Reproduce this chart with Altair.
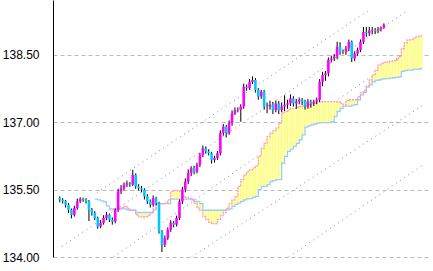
import altair as alt
import pandas as pd

opens = [135.31,135.27,135.24,135.16,135.05,134.94,135.09,135.24,135.29,135.27,
135.24,135.05,134.98,134.87,134.68,134.76,134.87,134.94,134.83,134.79,
135.05,135.46,135.53,135.61,135.64,135.61,135.83,135.57,135.53,135.50,
135.35,135.24,135.16,135.31,135.20,134.57,134.27,134.42,134.61,134.76,
134.72,134.87,135.24,135.50,135.68,135.87,135.98,135.90,136.05,136.27,
136.42,136.35,136.31,136.16,136.20,136.31,136.76,136.90,136.76,136.98,
137.20,137.27,137.27,137.35,137.79,137.76,137.90,137.94,137.72,137.57,
137.68,137.35,137.35,137.39,137.27,137.42,137.27,137.35,137.39,137.42,
137.53,137.42,137.46,137.50,137.46,137.35,137.46,137.42,137.46,137.50,
137.90,138.05,138.09,138.39,138.42,138.46,138.68,138.57,138.57,138.64,
138.79,138.42,138.53,138.61,138.79,139.01,138.98,139.04,139.05,139.04,
139.07,139.10]

closes = [135.27,135.24,135.16,135.05,134.94,135.09,135.24,135.29,135.27,135.24,
135.05,134.98,134.87,134.68,134.76,134.87,134.94,134.83,134.79,135.05,
135.46,135.53,135.61,135.64,135.61,135.83,135.57,135.53,135.50,135.35,
135.24,135.16,135.31,135.20,134.57,134.27,134.42,134.61,134.76,134.72,
134.87,135.24,135.50,135.68,135.87,135.98,135.90,136.05,136.27,136.42,
136.35,136.31,136.16,136.20,136.31,136.76,136.90,136.76,136.98,137.20,
137.27,137.27,137.35,137.79,137.76,137.90,137.94,137.72,137.57,137.68,
137.35,137.35,137.39,137.27,137.42,137.27,137.35,137.39,137.42,137.53,
137.42,137.46,137.50,137.46,137.35,137.46,137.42,137.46,137.50,137.90,
138.05,138.09,138.39,138.42,138.46,138.68,138.57,138.57,138.64,138.79,
138.42,138.53,138.61,138.79,139.01,138.98,139.04,139.05,139.04,139.07,
139.10,139.17]

highs = [135.35,135.31,135.27,135.20,135.08,135.14,135.30,135.33,135.32,135.31,
135.27,135.09,135.02,134.90,134.82,134.93,135.00,134.97,134.88,135.08,
135.52,135.60,135.66,135.70,135.67,135.94,135.86,135.62,135.58,135.53,
135.40,135.28,135.37,135.34,135.23,134.60,134.48,134.66,134.82,134.80,
134.92,135.28,135.56,135.75,135.95,136.02,136.03,136.10,136.32,136.48,
136.46,136.40,136.34,136.25,136.36,136.82,136.96,136.94,137.04,137.26,
137.33,137.33,137.40,137.86,137.84,137.96,138.02,137.98,137.76,137.72,
137.72,137.44,137.48,137.45,137.48,137.47,137.44,137.60,137.50,137.62,
137.58,137.52,137.55,137.54,137.50,137.52,137.50,137.50,137.55,137.96,
138.12,138.14,138.44,138.48,138.52,138.79,138.78,138.62,138.70,138.84,
138.82,138.58,138.66,138.84,139.12,139.12,139.12,139.12,139.10,139.12,
139.13,139.20]

lows = [135.22,135.19,135.10,134.98,134.86,134.90,135.05,135.20,135.23,135.19,
134.80,134.92,134.82,134.63,134.64,134.72,134.82,134.78,134.72,134.75,
135.00,135.40,135.48,135.56,135.56,135.58,135.52,135.48,135.44,135.28,
135.18,135.10,135.12,135.15,134.52,134.11,134.22,134.38,134.56,134.66,
134.68,134.82,135.18,135.44,135.62,135.80,135.84,135.86,136.00,136.22,
136.30,136.26,136.08,136.10,136.16,136.26,136.70,136.66,136.72,136.92,
137.16,137.22,137.01,137.30,137.70,137.72,137.85,137.66,137.50,137.52,
137.28,137.20,137.28,137.18,137.22,137.18,137.22,137.25,137.30,137.36,
137.35,137.30,137.40,137.38,137.28,137.30,137.32,137.36,137.40,137.45,
137.80,137.92,138.02,138.33,138.36,138.40,138.50,138.52,138.50,138.58,
138.34,138.36,138.48,138.56,138.74,138.90,138.92,138.96,138.96,138.98,
139.02,139.08]

cloud_start = 12
span_a = [None, None, None, None, None,
135.05,135.05,135.08,135.08,135.10,135.13,135.08,135.04,135.04,134.94,
134.90,134.89,134.90,134.92,134.98,135.09,135.16,135.19,135.19,135.20,
135.27,135.46,135.48,135.48,135.46,135.35,135.33,135.31,135.29,135.20,
135.09,135.03,134.90,134.83,134.77,134.74,134.74,134.83,134.92,134.99,
135.09,135.19,135.27,135.35,135.57,135.72,135.83,135.90,135.94,135.98,
136.03,136.24,136.42,136.53,136.68,136.76,136.81,136.87,136.98,137.20,
137.24,137.27,137.31,137.31,137.33,137.35,137.36,137.36,137.39,137.41,
137.42,137.44,137.45,137.46,137.46,137.46,137.46,137.46,137.45,137.42,
137.39,137.48,137.50,137.50,137.50,137.57,137.66,137.70,137.81,137.94,
138.05,138.16,138.27,138.31,138.33,138.34,138.36,138.37,138.39,138.46,
138.64,138.77,138.83,138.84,138.87,138.90,138.92,138.94]

span_b = [135.29,135.27,135.25,135.23,135.14,
135.07,135.07,135.07,135.07,135.07,135.07,135.05,135.04,135.04,134.99,
134.99,134.99,134.99,134.99,134.99,135.05,135.19,135.19,135.19,135.19,
135.19,135.29,135.29,135.29,135.29,135.29,135.29,135.29,135.27,135.24,
135.24,135.19,135.04,135.04,135.04,135.04,135.04,135.04,135.04,135.04,
135.05,135.07,135.13,135.17,135.20,135.24,135.27,135.30,135.30,135.33,
135.35,135.50,135.57,135.57,135.61,135.68,135.70,135.72,135.72,136.09,
136.24,136.35,136.40,136.46,136.53,136.61,136.72,136.89,136.92,136.94,
136.96,136.98,136.99,136.99,136.99,136.99,137.01,137.13,137.24,137.31,
137.36,137.36,137.36,137.38,137.39,137.50,137.61,137.66,137.78,137.83,
137.90,137.93,137.94,137.96,137.97,137.97,137.98,137.99,138.00,138.01,
138.13,138.15,138.16,138.16,138.18,138.18,138.19,138.21]

trend_ids = ["t1", "t1", "t2", "t2", "t3", "t3", "t4", "t4", "t5", "t5"]
trend_idx = [12.7, 106.1, 0.7, 119.4, 18.4, 124.4, 45.1, 124.4, 78.4, 124.4]
trend_val = [135.43, 139.50, 134.23, 139.50, 134.00, 138.83, 134.00, 137.38, 134.00, 136.05]

y_ticks = [134.0, 135.5, 137.0, 138.5]

n = len(closes)
candles = pd.DataFrame({
    "i": list(range(n)), "open": opens, "high": highs, "low": lows, "close": closes,
})
candles["dir"] = ["up" if c > o else ("down" if c < o else "flat") for o, c in zip(opens, closes)]

cloud = pd.DataFrame({
    "j": list(range(cloud_start, cloud_start + len(span_b))),
    "a": span_a, "b": span_b,
})
cloud_ab = cloud.dropna()

trend = pd.DataFrame({"id": trend_ids, "i": trend_idx, "v": trend_val})

xs = alt.Scale(domain=[-0.6, 124.4], nice=False, zero=False)
ys = alt.Scale(domain=[134.0, 139.72], nice=False, zero=False)

yaxis = alt.Axis(values=y_ticks, format=".2f", title=None, tickSize=0, labelPadding=14,
                 labelFont="Liberation Sans", labelFontSize=12, labelColor="black",
                 domainColor="black", domainWidth=1, grid=True, gridColor="#bbbbbb",
                 gridDash=[4, 3], gridWidth=1)

trend_layer = alt.Chart(trend).mark_line(color="#888888", strokeWidth=1, strokeDash=[1, 4], clip=True).encode(
    x=alt.X("i:Q", scale=xs, axis=None),
    y=alt.Y("v:Q", scale=ys, axis=yaxis),
    detail="id:N",
)

area_layer = alt.Chart(cloud_ab).mark_area(color="#ffffc4", interpolate="step-after").encode(
    x=alt.X("j:Q", scale=xs, axis=None),
    y=alt.Y("a:Q", scale=ys),
    y2="b:Q",
)

stripe_layer = alt.Chart(cloud_ab).mark_rule(color="#ffff70", strokeWidth=1.3).encode(
    x=alt.X("j:Q", scale=xs, axis=None),
    y=alt.Y("a:Q", scale=ys),
    y2="b:Q",
)

blue_layer = alt.Chart(cloud).mark_line(color="#99ccff", strokeWidth=1.3, interpolate="step-after").encode(
    x=alt.X("j:Q", scale=xs, axis=None),
    y=alt.Y("b:Q", scale=ys),
)

pink_layer = alt.Chart(cloud_ab).mark_line(color="#ff99cc", strokeWidth=1.3, interpolate="step-after",
                                          strokeDash=[2, 1]).encode(
    x=alt.X("j:Q", scale=xs, axis=None),
    y=alt.Y("a:Q", scale=ys),
)

wick_layer = alt.Chart(candles).mark_rule(color="black", strokeWidth=1).encode(
    x=alt.X("i:Q", scale=xs, axis=None),
    y=alt.Y("low:Q", scale=ys),
    y2="high:Q",
)

body_layer = alt.Chart(candles).mark_bar(size=2.6).encode(
    x=alt.X("i:Q", scale=xs, axis=None),
    y=alt.Y("open:Q", scale=ys),
    y2="close:Q",
    color=alt.Color("dir:N", scale=alt.Scale(domain=["up", "down", "flat"],
                                             range=["#ff00ff", "#00c8ff", "#000000"]), legend=None),
)

chart = alt.layer(trend_layer, area_layer, stripe_layer, blue_layer, pink_layer, wick_layer, body_layer).properties(
    width=375, height=257,
    autosize=alt.AutoSizeParams(type="none"),
    padding={"left": 53, "top": 0, "right": 5, "bottom": 14},
    background="white",
).configure_view(stroke=None)

chart.save("out.html", embed_options={"renderer": "svg", "actions": False})
